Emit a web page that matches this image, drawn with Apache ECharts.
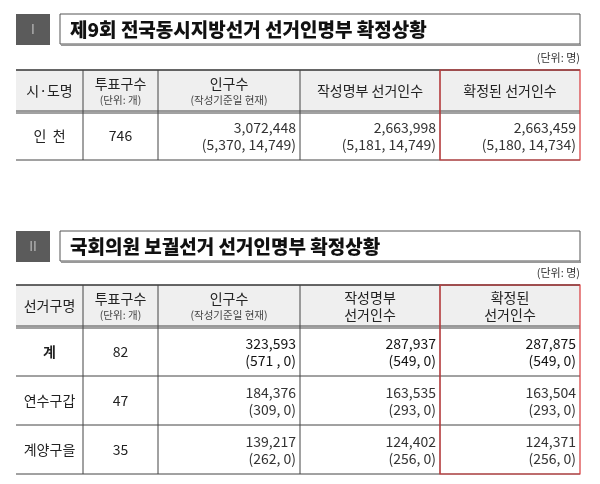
<!DOCTYPE html>
<html><head><meta charset="utf-8">
<script src="https://cdn.jsdelivr.net/npm/echarts@6/dist/echarts.min.js"></script>
<style>html,body{margin:0;padding:0;background:#fff}#c{width:600px;height:484px}</style>
</head><body><div id="c"></div>
<script>
const title1 = "제9회 전국동시지방선거 선거인명부 확정상황";
const title2 = "국회의원 보궐선거 선거인명부 확정상황";
const unitLabel = "(단위: 명)";
const header1 = [["시·도명",""],["투표구수","(단위: 개)"],["인구수","(작성기준일 현재)"],["작성명부 선거인수",""],["확정된 선거인수",""]];
const header2 = [["선거구명",""],["투표구수","(단위: 개)"],["인구수","(작성기준일 현재)"],["작성명부\n선거인수",""],["확정된\n선거인수",""]];
const rows1Names = ["인  천"];
const rows1Units = ["746"];
const rows1Pop = [["3,072,448","(5,370, 14,749)"]];
const rows1Made = [["2,663,998","(5,181, 14,749)"]];
const rows1Final = [["2,663,459","(5,180, 14,734)"]];
const rows2Names = ["계","연수구갑","계양구을"];
const rows2Units = ["82","47","35"];
const rows2Pop = [["323,593","(571 , 0)"],["184,376","(309, 0)"],["139,217","(262, 0)"]];
const rows2Made = [["287,937","(549, 0)"],["163,535","(293, 0)"],["124,402","(256, 0)"]];
const rows2Final = [["287,875","(549, 0)"],["163,504","(293, 0)"],["124,371","(256, 0)"]];

const F = '"Noto Sans CJK KR", sans-serif';
const cols = [16, 83, 158, 300, 440, 580];
const els = [];
function section(badge, title, y0, tyOff, headers, names, units, pop, made, fin, headH, rowH, boldFirst) {
  els.push({type:'rect', shape:{x:16,y:y0,width:34,height:31}, style:{fill:'#5b5b5b'}});
  els.push({type:'text', style:{x:33,y:y0+15.5,text:badge,fill:'#bbb',font:'13px '+F,align:'center',verticalAlign:'middle'}});
  els.push({type:'rect', shape:{x:60,y:y0,width:520,height:30}, style:{fill:'#fff',stroke:'#555',lineWidth:1}});
  els.push({type:'rect', shape:{x:61,y:y0+30,width:520,height:2}, style:{fill:'#999'}});
  els.push({type:'text', style:{x:70,y:y0+16,text:title,fill:'#111',font:'900 19px '+F,verticalAlign:'middle'}});
  const ty = y0 + tyOff;
  els.push({type:'text', style:{x:580,y:ty-12,text:unitLabel,fill:'#333',font:'11px '+F,align:'right',verticalAlign:'middle'}});
  const hb = ty + headH;
  const bottom = hb + rowH * names.length;
  els.push({type:'rect', shape:{x:16,y:ty,width:564,height:headH}, style:{fill:'#efefef'}});
  els.push({type:'line', shape:{x1:16,y1:ty,x2:580,y2:ty}, style:{stroke:'#333',lineWidth:1.5}});
  els.push({type:'line', shape:{x1:16,y1:hb-1,x2:580,y2:hb-1}, style:{stroke:'#444',lineWidth:1}});
  els.push({type:'line', shape:{x1:16,y1:hb+1,x2:580,y2:hb+1}, style:{stroke:'#444',lineWidth:1}});
  for (let i=1;i<5;i++) els.push({type:'line', shape:{x1:cols[i],y1:ty,x2:cols[i],y2:bottom}, style:{stroke:'#444',lineWidth:1}});
  for (let r=1;r<=names.length;r++) els.push({type:'line', shape:{x1:16,y1:hb+rowH*r,x2:580,y2:hb+rowH*r}, style:{stroke:'#444',lineWidth:1}});
  headers.forEach((h,i)=>{
    const cx=(cols[i]+cols[i+1])/2, cy=ty+headH/2;
    if (h[1]) {
      els.push({type:'text', style:{x:cx,y:cy-7,text:h[0],fill:'#222',font:'14px '+F,align:'center',verticalAlign:'middle'}});
      els.push({type:'text', style:{x:cx,y:cy+9,text:h[1],fill:'#444',font:'10.5px '+F,align:'center',verticalAlign:'middle'}});
    } else {
      els.push({type:'text', style:{x:cx,y:cy,text:h[0],fill:'#222',font:'14px '+F,align:'center',verticalAlign:'middle',lineHeight:17}});
    }
  });
  names.forEach((n,r)=>{
    const cy = hb + rowH*r + rowH/2;
    const bold = boldFirst && r===0 ? 'bold ' : '';
    els.push({type:'text', style:{x:(cols[0]+cols[1])/2,y:cy,text:n,fill:'#222',font:bold+'14px '+F,align:'center',verticalAlign:'middle'}});
    els.push({type:'text', style:{x:(cols[1]+cols[2])/2,y:cy,text:units[r],fill:'#222',font:'14px '+F,align:'center',verticalAlign:'middle'}});
    [pop,made,fin].forEach((arr,k)=>{
      const rx = cols[k+3]-4;
      const c = bold ? '#111' : '#333';
      els.push({type:'text', style:{x:rx,y:cy-8,text:arr[r][0],fill:c,font:'14px '+F,align:'right',verticalAlign:'middle'}});
      els.push({type:'text', style:{x:rx,y:cy+9,text:arr[r][1],fill:c,font:'14px '+F,align:'right',verticalAlign:'middle'}});
    });
  });
  els.push({type:'rect', shape:{x:cols[4],y:ty,width:cols[5]-cols[4],height:bottom-ty}, style:{fill:'none',stroke:'#d9383a',lineWidth:1.2}, z:10});
}
section("I", title1, 14, 56, header1, rows1Names, rows1Units, rows1Pop, rows1Made, rows1Final, 42, 48, false);
section("II", title2, 231, 54, header2, rows2Names, rows2Units, rows2Pop, rows2Made, rows2Final, 42, 49, true);
const chart = echarts.init(document.getElementById('c'));
chart.setOption({animation:false, graphic:{elements:els}});
</script></body></html>
